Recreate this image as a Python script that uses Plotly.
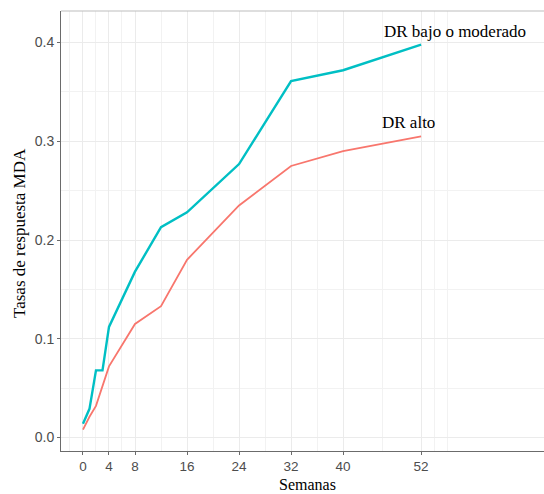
import plotly.graph_objects as go

# Data
weeks_bajo = [0, 1, 2, 3, 4, 5, 8, 12, 16, 24, 32, 40, 52]
rate_bajo = [0.014, 0.029, 0.068, 0.068, 0.112, 0.126, 0.168, 0.213, 0.228, 0.277, 0.361, 0.372, 0.398]

weeks_alto = [0, 1, 2, 3, 4, 8, 12, 16, 24, 32, 40, 52]
rate_alto = [0.008, 0.021, 0.032, 0.053, 0.072, 0.115, 0.133, 0.180, 0.235, 0.275, 0.290, 0.305]

x_ticks = [0, 4, 8, 16, 24, 32, 40, 52]
x_minor = [-4, -2, 2, 6, 12, 20, 28, 36, 46, 54, 56]
y_ticks = [0.0, 0.1, 0.2, 0.3, 0.4]
y_tick_text = ["0.0", "0.1", "0.2", "0.3", "0.4"]
y_minor = [0.05, 0.15, 0.25, 0.35]

label_bajo = "DR bajo o moderado"
label_alto = "DR alto"

TEAL = "#00BFC4"
SALMON = "#F8766D"
GRID = "#EBEBEB"
AXIS = "#6b6b6b"

fig = go.Figure()
fig.add_trace(go.Scatter(x=weeks_alto, y=rate_alto, mode="lines",
                         line=dict(color=SALMON, width=1.8), showlegend=False))
fig.add_trace(go.Scatter(x=weeks_bajo, y=rate_bajo, mode="lines",
                         line=dict(color=TEAL, width=2.4), showlegend=False))

fig.add_annotation(x=57.2, y=0.411, text=label_bajo, showarrow=False,
                   xanchor="center", yanchor="middle",
                   font=dict(family="Liberation Serif", size=17, color="black"))
fig.add_annotation(x=50.1, y=0.319, text=label_alto, showarrow=False,
                   xanchor="center", yanchor="middle",
                   font=dict(family="Liberation Serif", size=17, color="black"))

# axis titles
fig.add_annotation(x=(307 - 61) / (544 - 61), y=-(484.5 - 451) / 440, xref="paper", yref="paper",
                   text="Semanas", showarrow=False, xanchor="center", yanchor="middle",
                   borderpad=0,
                   font=dict(family="Liberation Serif", size=16, color="black"))
fig.add_annotation(x=-(61 - 19) / (544 - 61), y=(451 - 233) / 440, xref="paper", yref="paper",
                   text="Tasas de respuesta MDA", textangle=-90, showarrow=False,
                   xanchor="center", yanchor="middle",
                   font=dict(family="Liberation Serif", size=17, color="black"))

# top panel border
fig.add_shape(type="line", xref="paper", yref="paper", x0=0, x1=1, y0=1, y1=1,
              line=dict(color="#bdbdbd", width=1))

fig.update_xaxes(
    range=[-3.38, 70.9], tickmode="array", tickvals=x_ticks,
    ticktext=[str(v) for v in x_ticks],
    showgrid=True, gridcolor=GRID, gridwidth=1,
    minor=dict(tickvals=x_minor, showgrid=True, gridcolor="#F2F2F2", gridwidth=0.8),
    zeroline=False, showline=True, linecolor=AXIS, linewidth=1,
    ticks="outside", ticklen=3, tickcolor=AXIS, tickwidth=1,
    tickfont=dict(family="Liberation Sans", size=13.5, color="#4D4D4D"),
)
fig.update_yaxes(
    range=[-0.0137, 0.432], tickmode="array", tickvals=y_ticks, ticktext=y_tick_text,
    showgrid=True, gridcolor=GRID, gridwidth=1,
    minor=dict(tickvals=y_minor, showgrid=True, gridcolor="#F2F2F2", gridwidth=0.8),
    zeroline=False, showline=True, linecolor=AXIS, linewidth=1,
    ticks="outside", ticklen=3, tickcolor=AXIS, tickwidth=1,
    tickfont=dict(family="Liberation Sans", size=14, color="#4D4D4D"),
)

fig.update_layout(
    width=544, height=494,
    margin=dict(l=61, r=0, t=11, b=43),
    paper_bgcolor="white", plot_bgcolor="white",
    showlegend=False,
)

fig.write_html("out.html")
